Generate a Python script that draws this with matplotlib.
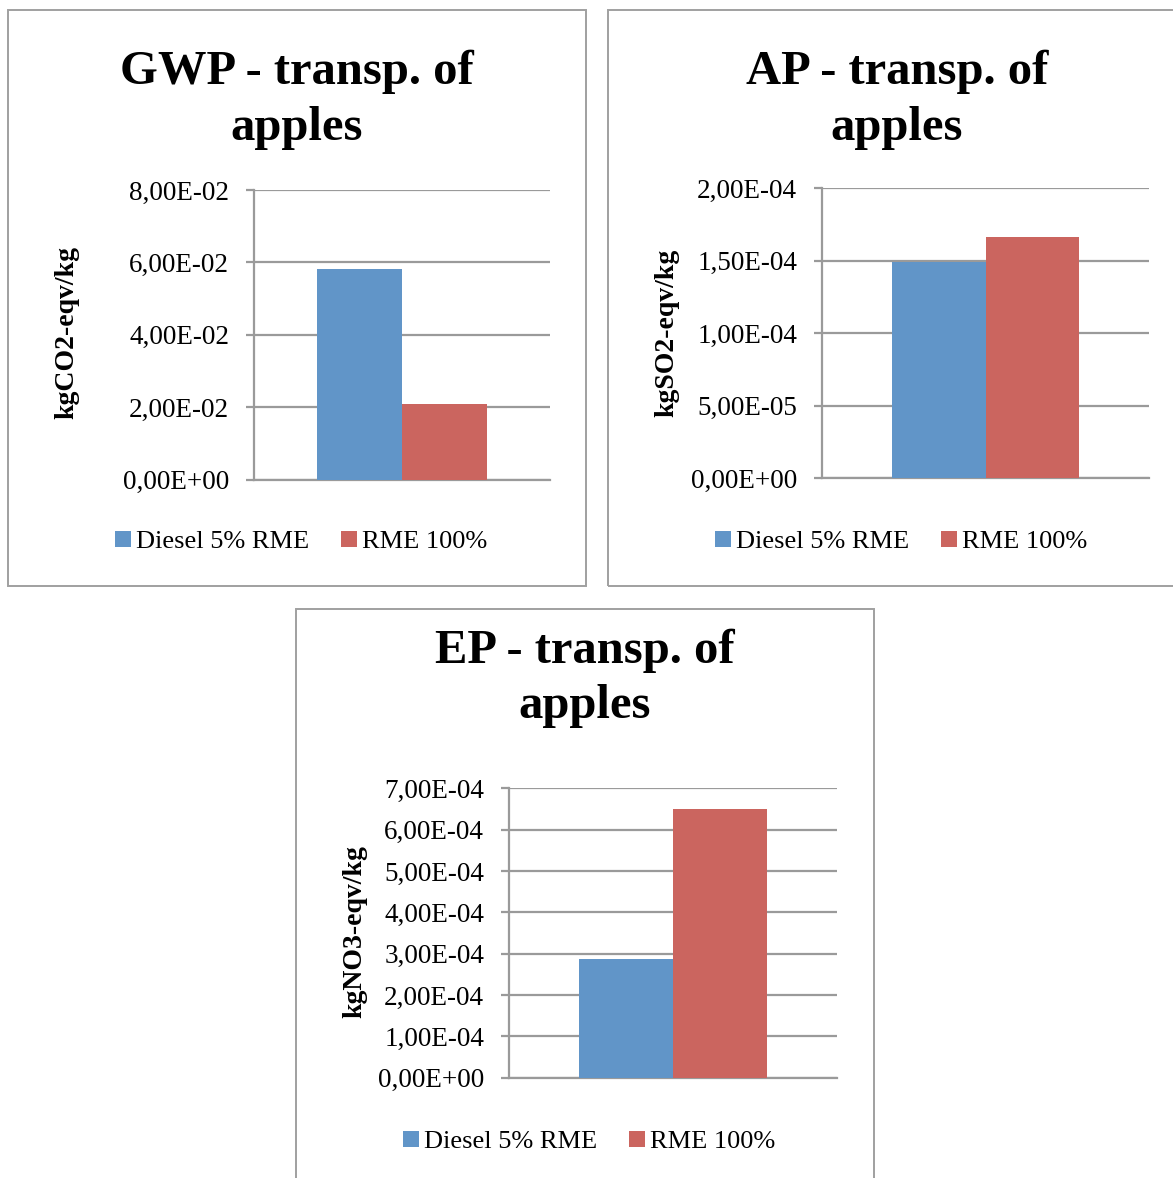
import matplotlib
matplotlib.use("Agg")
import matplotlib.pyplot as plt
from matplotlib.patches import Rectangle
from matplotlib.ticker import MultipleLocator, FuncFormatter

# --- data ---
series = ["Diesel 5% RME", "RME 100%"]
colors = ["#6195C8", "#CB655F"]

gwp_vals = [5.81e-2, 2.09e-2]
ap_vals = [1.493e-4, 1.664e-4]
ep_vals = [2.87e-4, 6.50e-4]

titles = ["GWP - transp. of", "AP - transp. of", "EP - transp. of"]
ylabels = ["kgCO2-eqv/kg", "kgSO2-eqv/kg", "kgNO3-eqv/kg"]
y_max = [8e-2, 2e-4, 7e-4]
y_step = [2e-2, 5e-5, 1e-4]

W, H = 1173, 1178
plt.rcParams["font.family"] = ["Liberation Serif", "DejaVu Serif"]
fig = plt.figure(figsize=(W / 100, H / 100), dpi=100)

GRID = "#9a9a9a"


def fx(px):
    return px / W


def fy(py):
    return 1 - py / H


def sci_comma(v, pos):
    return ("%.2E" % v).replace(".", ",")


# layout in pixels: frame, plot area, title baselines, ylabel centre, legend centre
panels = [
    dict(frame=(8, 10, 578, 576), plot=(254, 190, 550, 479.5),
         tb=(84, 140), yl=(67, 333), leg=(301, 542)),
    dict(frame=(608, 10, 578, 576), plot=(822, 188.5, 1149, 478),
         tb=(84, 140), yl=(667, 333), leg=(901, 542)),
    dict(frame=(296, 609, 578, 576), plot=(509, 788.3, 837, 1077.7),
         tb=(663, 718), yl=(355, 932), leg=(589, 1142)),
]
all_vals = [gwp_vals, ap_vals, ep_vals]

for i, p in enumerate(panels):
    x0, y0, w, h = p["frame"]
    fig.patches.append(Rectangle((fx(x0), fy(y0 + h)), w / W, h / H,
                                 transform=fig.transFigure, fill=False,
                                 edgecolor="#a0a0a0", linewidth=1.4))
    cx = x0 + w / 2

    # title in two lines
    fig.text(fx(cx), fy(p["tb"][0]), titles[i], ha="center", va="baseline",
             fontsize=35, fontweight="bold")
    fig.text(fx(cx), fy(p["tb"][1]), "apples", ha="center", va="baseline",
             fontsize=35, fontweight="bold")

    l, t, r, b = p["plot"]
    ax = fig.add_axes([fx(l), fy(b), (r - l) / W, (b - t) / H])
    bw = 1 / 3.5  # gap width 150%
    for j, name in enumerate(series):
        ax.bar((j - 0.5) * bw, all_vals[i][j], width=bw, color=colors[j],
               label=name, zorder=3)
    ax.set_xlim(-0.5, 0.5)
    ax.set_ylim(0, y_max[i])
    ax.yaxis.set_major_locator(MultipleLocator(y_step[i]))
    ax.yaxis.set_major_formatter(FuncFormatter(sci_comma))
    ax.grid(axis="y", color=GRID, linewidth=1.6, zorder=0)
    ax.set_xticks([])
    for s in ["top", "right"]:
        ax.spines[s].set_visible(False)
    for s in ["left", "bottom"]:
        ax.spines[s].set_color(GRID)
        ax.spines[s].set_linewidth(1.6)
    ax.tick_params(axis="y", length=6, width=1.6, color=GRID, pad=12,
                   labelsize=19.5)

    fig.text(fx(p["yl"][0]), fy(p["yl"][1]), ylabels[i], rotation=90,
             ha="center", va="center", fontsize=20, fontweight="bold")

    ax.legend(loc="center", bbox_to_anchor=(fx(p["leg"][0]), fy(p["leg"][1])),
              bbox_transform=fig.transFigure, ncol=2, frameon=False,
              fontsize=19, handlelength=0.6, handleheight=0.6,
              handletextpad=0.2, columnspacing=1.2)

fig.savefig("out.png", dpi=100)
